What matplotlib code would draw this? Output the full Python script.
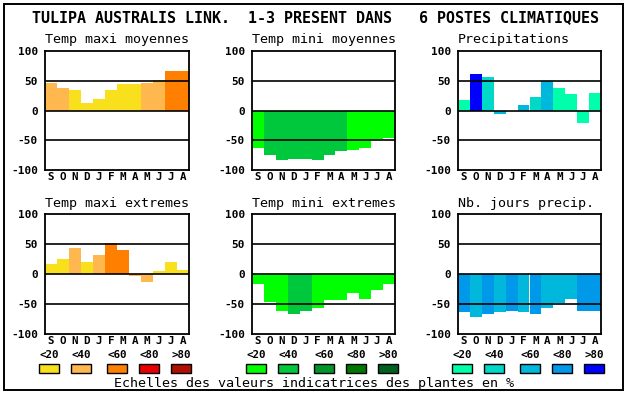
import matplotlib
matplotlib.use("Agg")
import matplotlib.pyplot as plt
from matplotlib.patches import Rectangle

W, H = 630, 394

months = ["S", "O", "N", "D", "J", "F", "M", "A", "M", "J", "J", "A"]
yticks = [100, 50, 0, -50, -100]
class_labels = ["<20", "<40", "<60", "<80", ">80"]

# palettes (indicator classes)
warm = ["#F8E11C", "#FFB84F", "#FF8000", "#E80000", "#B01000"]
green = ["#00FF00", "#00C83C", "#00962A", "#007800", "#006020"]
blue = ["#00FFAA", "#00D8C8", "#00B8DC", "#0098E8", "#0000FF"]

# panel titles
titles = ["Temp maxi moyennes", "Temp mini moyennes", "Precipitations",
          "Temp maxi extremes", "Temp mini extremes", "Nb. jours precip."]

# values
tmax_moy = [47, 37, 34, 12, 20, 35, 45, 44, 47, 52, 66, 66]
tmax_moy_cls = [1, 1, 0, 0, 0, 0, 0, 0, 1, 1, 2, 2]
tmin_moy = [-63, -75, -84, -82, -82, -84, -75, -68, -67, -63, -48, -47]
tmin_moy_cls = [0, 1, 1, 1, 1, 1, 1, 1, 0, 0, 0, 0]
precip = [17, 61, 57, -6, 0, 10, 22, 49, 37, 27, -21, 30]
precip_cls = [0, 4, 1, 2, 0, 2, 1, 2, 0, 0, 0, 0]
tmax_ext = [17, 25, 44, 20, 32, 52, 40, -4, -14, 5, 20, 7]
tmax_ext_cls = [0, 0, 1, 0, 1, 2, 2, 1, 1, 0, 0, 0]
tmin_ext = [-16, -46, -62, -66, -62, -57, -44, -44, -31, -42, -26, -16]
tmin_ext_cls = [0, 0, 0, 1, 1, 0, 0, 0, 0, 0, 0, 0]
nbjours = [-64, -72, -66, -64, -62, -64, -66, -56, -48, -42, -62, -62]
nbjours_cls = [3, 2, 3, 2, 3, 2, 3, 2, 2, 2, 3, 3]

panels = [
    (tmax_moy, tmax_moy_cls, warm),
    (tmin_moy, tmin_moy_cls, green),
    (precip, precip_cls, blue),
    (tmax_ext, tmax_ext_cls, warm),
    (tmin_ext, tmin_ext_cls, green),
    (nbjours, nbjours_cls, blue),
]

mono = "DejaVu Sans Mono"
fig = plt.figure(figsize=(W / 100, H / 100), dpi=100)
fig.patch.set_facecolor("white")


def fx(x):
    return x / W


def fy(y):
    return 1 - y / H


# axes pixel boxes (left, top, right, bottom)
col_x = [(45, 189), (252, 395), (458, 601)]
row_y = [(51, 170), (214, 334)]

for i, (vals, cls, pal) in enumerate(panels):
    r, c = divmod(i, 3)
    x0, x1 = col_x[c]
    y0, y1 = row_y[r]
    ax = fig.add_axes([fx(x0), fy(y1), (x1 - x0) / W, (y1 - y0) / H])
    ax.bar(range(12), vals, width=1.0, color=[pal[k] for k in cls],
           edgecolor="none", zorder=1)
    for v in (50, 0, -50):
        ax.axhline(v, color="black", lw=1.2, zorder=3)
    ax.set_xlim(-0.5, 11.5)
    ax.set_ylim(-100, 100)
    ax.set_yticks(yticks)
    ax.set_yticklabels([str(t) for t in yticks], family=mono,
                       fontweight="bold", fontsize=8.0)
    ax.set_xticks(range(12))
    ax.set_xticklabels(months, family=mono, fontweight="bold", fontsize=7.8)
    ax.tick_params(axis="y", length=0, pad=5)
    ax.tick_params(axis="x", length=0, pad=1.5)
    for s in ax.spines.values():
        s.set_linewidth(1.3)
        s.set_zorder(4)
    fig.text(fx(x0), fy(y0 - 7.5), titles[i], family=mono, fontsize=9.6,
             ha="left", va="baseline")

# legend (class scales) under the bottom row
for c, pal in enumerate([warm, green, blue]):
    x0, x1 = col_x[c]
    starts = [x0 - 6 + k * 32 + (4 if k >= 2 else 0) for k in range(5)]
    for k in range(5):
        bx = starts[k]
        fig.text(fx(bx + 10), fy(355), class_labels[k], family=mono,
                 fontweight="bold", fontsize=7.8, ha="center", va="center")
        fig.add_artist(Rectangle((fx(bx), fy(373)), 20 / W, 9 / H,
                                 transform=fig.transFigure,
                                 facecolor=pal[k], edgecolor="black", lw=1.0))

fig.text(fx(31.5), fy(18), "TULIPA AUSTRALIS LINK.  1-3 PRESENT DANS   6 POSTES CLIMATIQUES",
         family=mono, fontweight="bold", fontsize=10.8, ha="left", va="center")
fig.text(fx(314), fy(386.5), "Echelles des valeurs indicatrices des plantes en %",
         family=mono, fontsize=9.6, ha="center", va="baseline")

fig.add_artist(Rectangle((fx(4), fy(390)), 619 / W, 386 / H,
                         transform=fig.transFigure, facecolor="none",
                         edgecolor="black", lw=1.4))

fig.savefig("out.png", dpi=100)
